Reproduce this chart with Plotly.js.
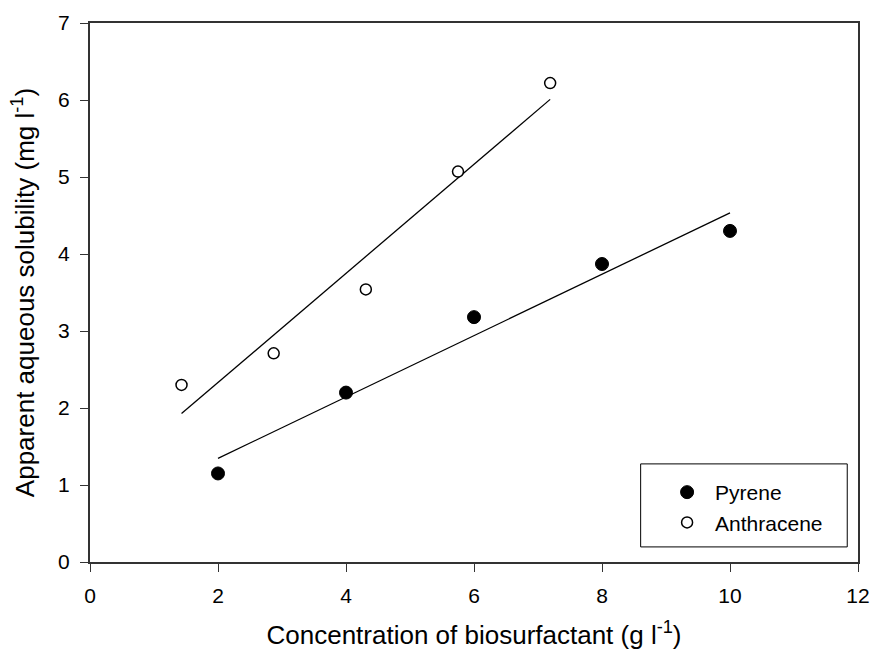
<!DOCTYPE html>
<html>
<head>
<meta charset="utf-8">
<script src="https://cdn.plot.ly/plotly-3.0.1.min.js"></script>
<style>
  html, body { margin: 0; padding: 0; background: #fff; }
  #chart { width: 873px; height: 656px; }
</style>
</head>
<body>
<div id="chart"></div>
<script>
// Biosurfactant concentration (g/l) and measured solubility (mg/l)
const pyreneX = [2, 4, 6, 8, 10];
const pyreneY = [1.15, 2.20, 3.18, 3.87, 4.30];
const anthraceneX = [1.43, 2.87, 4.31, 5.75, 7.19];
const anthraceneY = [2.30, 2.71, 3.54, 5.07, 6.22];

const xTicks = [0, 2, 4, 6, 8, 10, 12];
const yTicks = [0, 1, 2, 3, 4, 5, 6, 7];

// Least-squares line through a series, evaluated at its first and last x
function fitLine(xs, ys) {
  const n = xs.length;
  const mx = xs.reduce((a, b) => a + b, 0) / n;
  const my = ys.reduce((a, b) => a + b, 0) / n;
  let sxy = 0, sxx = 0;
  for (let i = 0; i < n; i++) {
    sxy += (xs[i] - mx) * (ys[i] - my);
    sxx += (xs[i] - mx) * (xs[i] - mx);
  }
  const slope = sxy / sxx;
  const x0 = Math.min(...xs), x1 = Math.max(...xs);
  return { x: [x0, x1], y: [my + slope * (x0 - mx), my + slope * (x1 - mx)] };
}

const pyreneFit = fitLine(pyreneX, pyreneY);
const anthraceneFit = fitLine(anthraceneX, anthraceneY);

const font = 'Arial, "Liberation Sans", sans-serif';

const traces = [
  {
    x: pyreneFit.x, y: pyreneFit.y, mode: 'lines', showlegend: false,
    line: { color: '#000', width: 1.3 }, hoverinfo: 'skip'
  },
  {
    x: anthraceneFit.x, y: anthraceneFit.y, mode: 'lines', showlegend: false,
    line: { color: '#000', width: 1.3 }, hoverinfo: 'skip'
  },
  {
    x: pyreneX, y: pyreneY, mode: 'markers', name: 'Pyrene',
    marker: { symbol: 'circle', size: 13, color: '#000', line: { color: '#000', width: 1 } }
  },
  {
    x: anthraceneX, y: anthraceneY, mode: 'markers', name: 'Anthracene',
    marker: { symbol: 'circle', size: 11, color: '#fff', line: { color: '#000', width: 1.5 } }
  }
];

const layout = {
  width: 873,
  height: 656,
  margin: { l: 90, r: 15, t: 23, b: 94 },
  paper_bgcolor: '#fff',
  plot_bgcolor: '#fff',
  font: { family: font, color: '#000', size: 21 },
  showlegend: true,
  legend: {
    x: 0.741, y: 0.167, xanchor: 'left', yanchor: 'top',
    bgcolor: 'rgba(0,0,0,0)', borderwidth: 0,
    font: { family: font, size: 21, color: '#000' },
    itemwidth: 46,
    tracegroupgap: 0
  },
  shapes: [
    {
      type: 'rect', xref: 'paper', yref: 'paper',
      x0: 0.717, x1: 0.986, y0: 0.028, y1: 0.182,
      line: { color: '#000', width: 1 }, fillcolor: 'rgba(0,0,0,0)'
    }
  ],
  xaxis: {
    range: [0, 12],
    tickvals: xTicks,
    ticktext: xTicks.map(String),
    ticks: 'outside', ticklen: 8, tickwidth: 1, tickcolor: '#333',
    ticklabelstandoff: 6,
    showline: true, linecolor: '#333', linewidth: 2, mirror: true,
    showgrid: false, zeroline: false,
    tickfont: { family: font, size: 21 },
    title: { text: 'Concentration of biosurfactant (g l<sup>-1</sup>)', font: { family: font, size: 26 }, standoff: 20 }
  },
  yaxis: {
    range: [0, 7],
    tickvals: yTicks,
    ticktext: yTicks.map(String),
    ticks: 'outside', ticklen: 8, tickwidth: 1, tickcolor: '#333',
    ticklabelstandoff: 6,
    showline: true, linecolor: '#333', linewidth: 2, mirror: true,
    showgrid: false, zeroline: false,
    tickfont: { family: font, size: 21 },
    title: { text: 'Apparent aqueous solubility (mg l<sup>-1</sup>)', font: { family: font, size: 26 }, standoff: 16 }
  }
};

Plotly.newPlot('chart', traces, layout, { displayModeBar: false, staticPlot: true });
</script>
</body>
</html>
